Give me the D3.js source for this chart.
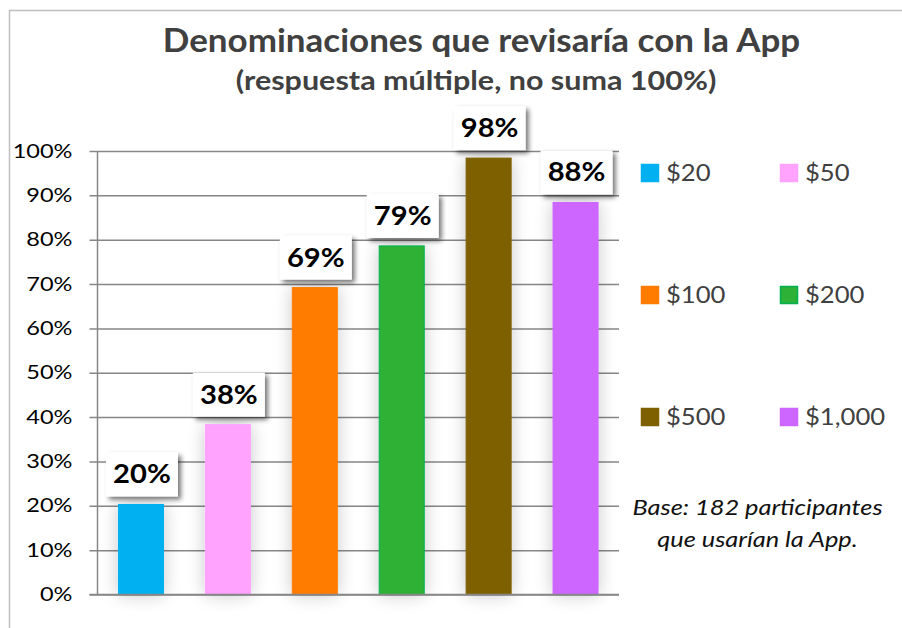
<!DOCTYPE html>
<html>
<head>
<meta charset="utf-8">
<script src="https://cdn.jsdelivr.net/npm/d3@7"></script>
<style>
  html, body { margin: 0; padding: 0; background: #fff; }
  svg { display: block; font-family: Lato, "Open Sans", sans-serif; }
</style>
</head>
<body>
<svg id="chart" width="902" height="628"></svg>
<script>
const categories = ["$20", "$50", "$100", "$200", "$500", "$1,000"];
const values = [0.203, 0.383, 0.692, 0.786, 0.984, 0.884];
const colors = ["#00B0F0", "#FFA3FF", "#FF7C00", "#2DB136", "#7F6000", "#CC66FF"];
const strokes = ["#00B0F0", "#FFA3FF", "#FF7C00", "#00B050", "#7F6000", "#CC66FF"];
const yTicks = [0, 0.1, 0.2, 0.3, 0.4, 0.5, 0.6, 0.7, 0.8, 0.9, 1.0];
const titleText = "Denominaciones que revisaría con la App";
const subtitleText = "(respuesta múltiple, no suma 100%)";
const noteLines = ["Base: 182 participantes", "que usarían la App."];

const svg = d3.select("#chart");
const defs = svg.append("defs");

const barShadow = defs.append("filter").attr("id", "barShadow")
  .attr("x", "-60%").attr("y", "-20%").attr("width", "220%").attr("height", "140%");
barShadow.append("feGaussianBlur").attr("in", "SourceAlpha").attr("stdDeviation", 9).attr("result", "b");
barShadow.append("feComponentTransfer").attr("in", "b").attr("result", "b2")
  .append("feFuncA").attr("type", "linear").attr("slope", 0.22);
const m1 = barShadow.append("feMerge");
m1.append("feMergeNode").attr("in", "b2");
m1.append("feMergeNode").attr("in", "SourceGraphic");

const lblShadow = defs.append("filter").attr("id", "lblShadow")
  .attr("x", "-30%").attr("y", "-30%").attr("width", "160%").attr("height", "170%");
lblShadow.append("feGaussianBlur").attr("in", "SourceAlpha").attr("stdDeviation", 2.5).attr("result", "b");
lblShadow.append("feOffset").attr("in", "b").attr("dx", 3).attr("dy", 3).attr("result", "o");
lblShadow.append("feComponentTransfer").attr("in", "o").attr("result", "o2")
  .append("feFuncA").attr("type", "linear").attr("slope", 0.55);
const m2 = lblShadow.append("feMerge");
m2.append("feMergeNode").attr("in", "o2");
m2.append("feMergeNode").attr("in", "SourceGraphic");

// helper: place text at (x,y) with horizontal stretch s
function placed(sel, x, y, s) {
  return sel.attr("transform", `translate(${x},${y}) scale(${s},1)`).attr("x", 0).attr("y", 0);
}

// outer frame (top and left visible)
svg.append("path").attr("d", "M9.5,628 V10.5 H902")
  .attr("fill", "none").attr("stroke", "#BFBFBF").attr("stroke-width", 1.5);

const plot = { left: 97.5, right: 619, top: 151, bottom: 594.5 };

const x = d3.scaleBand().domain(categories)
  .range([plot.left, plot.right]).paddingInner(0.482).paddingOuter(0.241);
const y = d3.scaleLinear().domain([0, 1]).range([plot.bottom, plot.top]);

// gridlines + y axis
const yAxis = d3.axisLeft(y).tickValues(yTicks).tickFormat(d3.format(".0%"))
  .tickSize(plot.right - plot.left + 8).tickPadding(17);
const gy = svg.append("g").attr("transform", `translate(${plot.right},0)`).call(yAxis);
gy.select(".domain").remove();
gy.selectAll(".tick line").attr("stroke", "#868686").attr("stroke-width", 1.5);
gy.selectAll(".tick text").each(function () {
  const t = d3.select(this);
  const tx = +t.attr("x");
  t.attr("transform", `translate(${tx},0) scale(1.24,1)`).attr("x", 0)
    .attr("fill", "#000").attr("font-size", 19).attr("font-family", "Lato, sans-serif");
});

// bars
svg.append("g").selectAll("rect").data(values).join("rect")
  .attr("x", (d, i) => x(categories[i]))
  .attr("y", d => y(d))
  .attr("width", x.bandwidth())
  .attr("height", d => y(0) - y(d))
  .attr("fill", (d, i) => colors[i])
  .attr("stroke", (d, i) => strokes[i])
  .attr("stroke-width", 1)
  .attr("filter", "url(#barShadow)");

// axis lines on top
svg.append("line").attr("x1", plot.left).attr("x2", plot.left)
  .attr("y1", plot.top).attr("y2", plot.bottom)
  .attr("stroke", "#868686").attr("stroke-width", 1.5);
svg.append("line").attr("x1", plot.left - 8).attr("x2", plot.right)
  .attr("y1", plot.bottom).attr("y2", plot.bottom)
  .attr("stroke", "#868686").attr("stroke-width", 1.5);

// data labels
const fmt = d3.format(".0%");
const lbl = svg.append("g").selectAll("g").data(values).join("g")
  .attr("transform", (d, i) => `translate(${x(categories[i]) + x.bandwidth() / 2},${y(d) - 8})`);
lbl.append("rect").attr("x", -35).attr("y", -44).attr("width", 72).attr("height", 44)
  .attr("fill", "#fff").attr("filter", "url(#lblShadow)");
placed(lbl.append("text"), 1, -13, 1.1).attr("text-anchor", "middle")
  .attr("font-size", 26.5).attr("font-weight", 700).attr("fill", "#000")
  .text(d => fmt(d));

// title
placed(svg.append("text"), 481.5, 52, 1.06).attr("text-anchor", "middle")
  .attr("font-size", 33).attr("font-weight", 700).attr("fill", "#404040").text(titleText);
placed(svg.append("text"), 476, 90, 1.13).attr("text-anchor", "middle")
  .attr("font-size", 27).attr("font-weight", 700).attr("fill", "#404040").text(subtitleText);

// legend
const legend = svg.append("g").selectAll("g").data(categories).join("g")
  .attr("transform", (d, i) => `translate(${641 + (i % 2) * 139},${173 + Math.floor(i / 2) * 122})`);
legend.append("rect").attr("x", 0.5).attr("y", -8.5).attr("width", 17).attr("height", 17)
  .attr("fill", (d, i) => colors[i]).attr("stroke", (d, i) => strokes[i]).attr("stroke-width", 1.5);
placed(legend.append("text"), 25, 8, 1.14).attr("font-size", 22.5)
  .attr("fill", "#404040").text(d => d);

// note
svg.append("g").selectAll("text").data(noteLines).join("text")
  .each(function (d, i) { placed(d3.select(this), 757.5, 515 + i * 32, 1.18); })
  .attr("text-anchor", "middle")
  .attr("font-size", 21.5).attr("font-style", "italic").attr("fill", "#111").text(d => d);
</script>
</body>
</html>
